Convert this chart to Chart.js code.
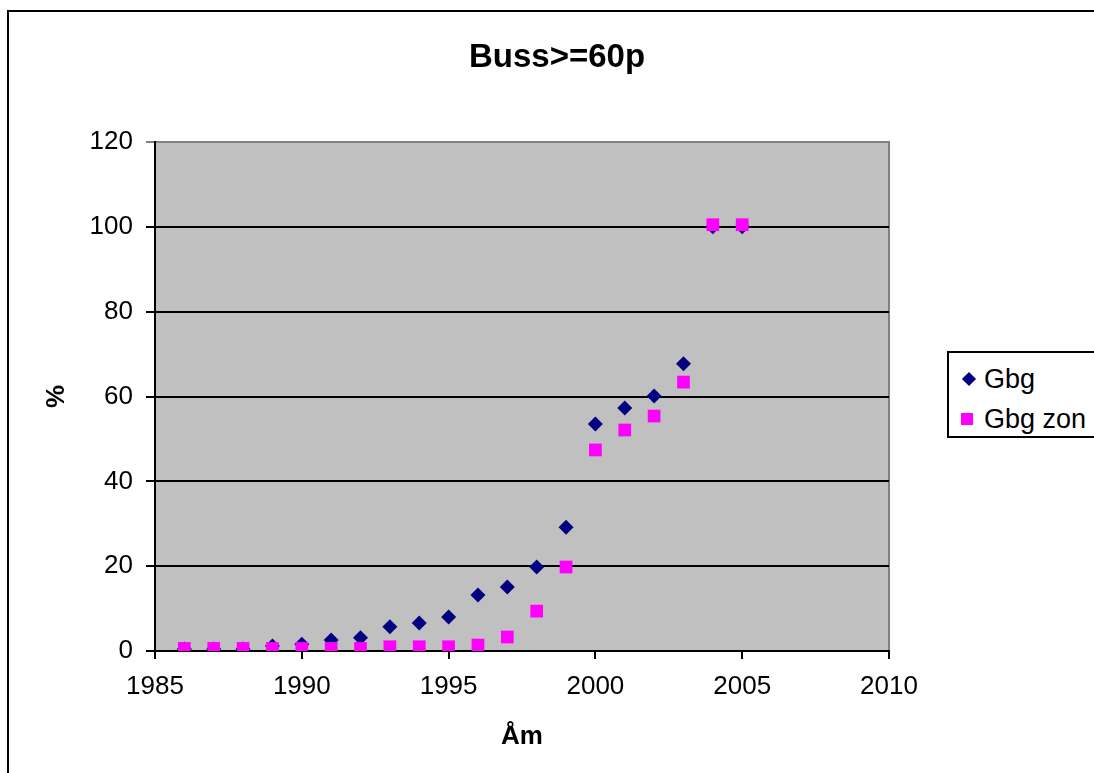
<!DOCTYPE html>
<html>
<head>
<meta charset="utf-8">
<script src="https://cdn.jsdelivr.net/npm/chart.js@4/dist/chart.umd.min.js"></script>
<style>
  html, body { margin: 0; padding: 0; background: #fff; overflow: hidden; }
  body { width: 1094px; height: 773px; position: relative; font-family: Arial, 'Liberation Sans', sans-serif; }
  #frame { position: absolute; left: 7px; top: 10px; width: 1120px; height: 800px; border: 2px solid #000; box-sizing: border-box; }
  #chart { position: absolute; left: 0; top: 0; }
  #legend { position: absolute; left: 947px; top: 351px; width: 170px; height: 87px; border: 2px solid #000; box-sizing: border-box; background: #fff; }
  .item { position: absolute; left: 0; height: 30px; line-height: 30px; font-size: 27px; color: #000; white-space: nowrap; }
  .item span.txt { position: absolute; left: 35px; top: 0; }
  .dia { position: absolute; left: 15px; top: 10px; width: 10px; height: 10px; background: #000080; transform: rotate(45deg); }
  .sq { position: absolute; left: 12px; top: 9px; width: 12px; height: 12px; background: #ff00ff; }
</style>
</head>
<body>
<div id="frame"></div>
<canvas id="chart" width="1094" height="773"></canvas>
<div id="legend">
  <div class="item" style="top:11px"><i class="dia"></i><span class="txt">Gbg</span></div>
  <div class="item" style="top:51px"><i class="sq"></i><span class="txt">Gbg zon</span></div>
</div>
<script>
// data
const years = [1986, 1987, 1988, 1989, 1990, 1991, 1992, 1993, 1994, 1995,
               1996, 1997, 1998, 1999, 2000, 2001, 2002, 2003, 2004, 2005]
const gbg = [0.5, 0.5, 0.5, 1.2, 1.6, 2.6, 3.1, 5.7, 6.6, 8.0,
             13.2, 15.1, 19.8, 29.2, 53.5, 57.3, 60.1, 67.7, 100, 100]
const gbgZon = [0.6, 0.6, 0.6, 0.6, 0.6, 0.6, 0.6, 1.0, 1.0, 1.0,
                1.4, 3.3, 9.4, 19.8, 47.4, 52.1, 55.4, 63.4, 100.5, 100.5]
const xTicks = [1985, 1990, 1995, 2000, 2005, 2010]
const yTicks = [0, 20, 40, 60, 80, 100, 120]
const chartTitle = 'Buss>=60p'

const font = { family: "Arial, 'Liberation Sans', sans-serif" }

// grey plot area with grey frame + title centred on the whole frame
const plotBg = {
  id: 'plotBg',
  beforeDraw(chart) {
    const { ctx, chartArea: a } = chart
    ctx.save()
    ctx.fillStyle = '#c0c0c0'
    ctx.fillRect(a.left, a.top, a.right - a.left, a.bottom - a.top)
    ctx.strokeStyle = '#808080'
    ctx.lineWidth = 2
    ctx.strokeRect(a.left, a.top, a.right - a.left, a.bottom - a.top)
    ctx.fillStyle = '#000'
    ctx.font = "bold 33px Arial, 'Liberation Sans', sans-serif"
    ctx.textAlign = 'center'
    ctx.textBaseline = 'middle'
    ctx.fillText(chartTitle, 557, 58)
    ctx.restore()
  }
}

new Chart(document.getElementById('chart'), {
  type: 'scatter',
  data: {
    datasets: [
      { label: 'Gbg', data: years.map((y, i) => ({ x: y, y: gbg[i] })), pointStyle: 'rectRot',
        pointRadius: 7.5, pointHoverRadius: 7.5, backgroundColor: '#000080', borderColor: '#000080', borderWidth: 0, order: 1 },
      { label: 'Gbg zon', data: years.map((y, i) => ({ x: y, y: gbgZon[i] })), pointStyle: 'rect',
        pointRadius: 9, pointHoverRadius: 9, backgroundColor: '#ff00ff', borderColor: '#ff00ff', borderWidth: 0, order: 0 }
    ]
  },
  options: {
    responsive: false,
    animation: false,
    layout: { padding: { top: 142, left: 0, right: 205, bottom: 0 } },
    plugins: {
      legend: { display: false },
      tooltip: { enabled: false },
      title: { display: false }
    },
    scales: {
      x: {
        type: 'linear', min: 1985, max: 2010,
        afterBuildTicks: s => { s.ticks = xTicks.map(v => ({ value: v })) },
        afterFit: s => { s.height = 122 },
        ticks: { color: '#000', font: { ...font, size: 26 }, padding: 12, callback: v => String(v), maxRotation: 0 },
        grid: { drawOnChartArea: false, drawTicks: true, tickLength: 8, color: '#000', lineWidth: 2 },
        border: { display: true, color: '#000', width: 2 },
        title: { display: true, text: 'Åm', color: '#000', font: { ...font, size: 26, weight: 'bold' }, padding: { top: 0, bottom: 21 } }
      },
      y: {
        min: 0, max: 120,
        afterBuildTicks: s => { s.ticks = yTicks.map(v => ({ value: v })) },
        afterFit: s => { s.width = 155 },
        ticks: { color: '#000', font: { ...font, size: 26 }, padding: 13 },
        grid: {
          drawTicks: true, tickLength: 9, lineWidth: 2,
          color: c => (c.tick && c.tick.value === 120) ? '#808080' : '#000'
        },
        border: { display: true, color: '#000', width: 2 },
        title: { display: true, text: '%', color: '#000', font: { ...font, size: 26, weight: 'bold' }, padding: { top: 41, bottom: 0 } }
      }
    }
  },
  plugins: [plotBg]
})
</script>
</body>
</html>
